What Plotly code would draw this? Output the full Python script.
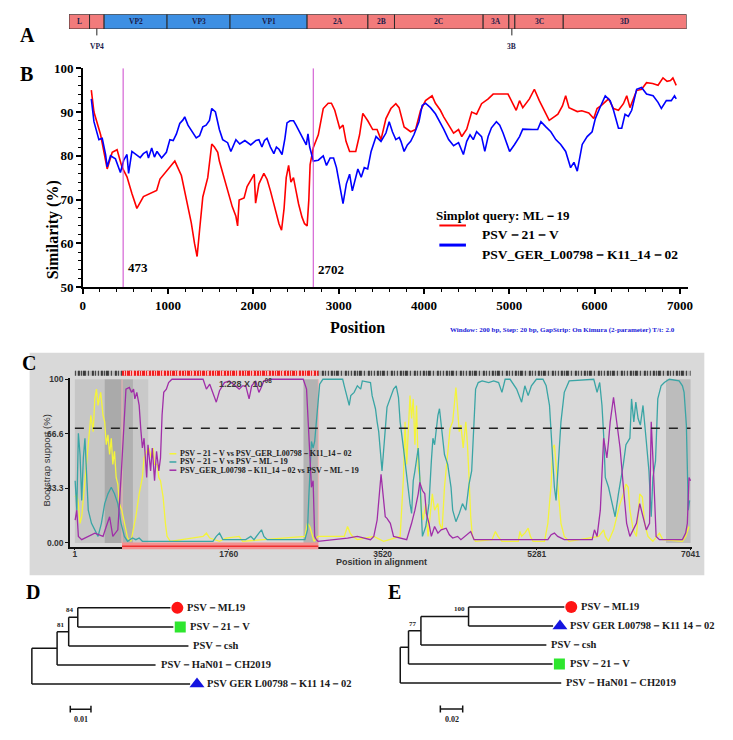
import numpy as np
import plotly.graph_objects as go

# ---------------- data ----------------
# A: genome map
genes = ["L", "VP4", "VP2", "VP3", "VP1", "2A", "2B", "2C", "3A", "3B", "3C", "3D"]
gene_len = [240, 170, 735, 735, 900, 710, 310, 1035, 300, 70, 565, 1440]
capsid = ["VP2", "VP3", "VP1"]
small_genes = ["VP4", "3B"]

# B: simplot (query ML-19)
red_pos = [100, 131, 209, 286, 345, 402, 460, 518, 576, 634, 711, 789, 866, 905, 982, 1079, 1156, 1214, 1272, 1310,
           1340, 1369, 1407, 1465, 1512, 1543, 1582, 1601, 1636, 1694, 1752, 1795, 1815, 1833, 1891, 1926, 1969, 2010, 2026, 2065,
           2123, 2161, 2200, 2258, 2300, 2330, 2360, 2385, 2413, 2440, 2470, 2500, 2530, 2570, 2600, 2630, 2650, 2665, 2703, 2761,
           2819, 2877, 2915, 2954, 3012, 3051, 3086, 3128, 3200, 3245, 3283, 3341, 3399, 3450, 3496, 3554, 3612, 3670, 3708, 3767,
           3844, 3902, 3960, 4018, 4095, 4134, 4192, 4231, 4289, 4347, 4405, 4443, 4501, 4559, 4617, 4675, 4753, 4811, 4985, 5043,
           5081, 5120, 5158, 5236, 5294, 5352, 5410, 5468, 5526, 5570, 5623, 5661, 5700, 5750, 5797, 5850, 5932, 5990, 6029, 6080,
           6164, 6222, 6280, 6338, 6377, 6415, 6493, 6551, 6609, 6680, 6744, 6802, 6850, 6890, 6918, 6957]
red_sim = [95, 90, 84.8, 77, 80.8, 81.4, 77.4, 75.2, 71.4, 68, 70.7, 71.4, 72.1, 74.7, 76.6, 78.8, 75.5, 69.9, 64.7, 60,
           57, 63, 70.6, 75, 82.7, 82, 80.8, 78.8, 76.4, 72, 68.4, 66.2, 64, 69.9, 70.4, 73, 74.5, 75.8, 69.2, 73.6,
           76, 74.6, 72, 67.6, 64.5, 63, 68, 75, 77.8, 74, 75, 72, 69, 66, 64.5, 64, 70, 78, 81.9, 84.8,
           90.8, 92, 92, 90.4, 86.3, 87, 83.3, 81, 81, 84.8, 89.7, 88, 86, 86, 83.7, 88.5, 90.8, 91.9, 91, 86.6,
           85.5, 86, 90.4, 92.6, 93.7, 92, 90.4, 88.9, 87, 85.2, 86, 84.4, 86.1, 90, 89.5, 91.9, 93, 94.1, 94.1, 91.9,
           90.4, 92.6, 91, 93, 95.2, 92.6, 90.4, 88.1, 88.9, 89.5, 91.4, 93.7, 91, 90.6, 90.1, 90.3, 89.8, 88.5, 90.8, 91.5,
           93, 90.8, 90.4, 91.9, 93.7, 91, 94.9, 95.2, 96.7, 96.5, 96.1, 97.8, 97, 97.2, 97.8, 96.1]
blue_pos = [100, 131, 189, 228, 267, 286, 325, 383, 441, 480, 518, 537, 576, 615, 673, 710, 750, 770, 808, 840,
            870, 924, 980, 1021, 1060, 1098, 1137, 1175, 1195, 1233, 1291, 1330, 1369, 1407, 1446, 1485, 1512, 1555, 1601, 1640,
            1698, 1736, 1795, 1840, 1900, 1969, 2030, 2065, 2100, 2130, 2160, 2200, 2240, 2270, 2300, 2336, 2370, 2394, 2430, 2471,
            2500, 2540, 2580, 2620, 2640, 2660, 2703, 2761, 2819, 2857, 2900, 2940, 2974, 3012, 3051, 3090, 3128, 3160, 3195, 3225,
            3264, 3300, 3340, 3380, 3438, 3496, 3554, 3592, 3630, 3670, 3710, 3730, 3767, 3805, 3844, 3882, 3941, 3979, 4018, 4076,
            4134, 4192, 4231, 4289, 4347, 4405, 4462, 4501, 4540, 4578, 4617, 4675, 4713, 4752, 4791, 4849, 4888, 4927, 4965, 5004,
            5062, 5120, 5158, 5216, 5275, 5333, 5371, 5429, 5487, 5545, 5603, 5661, 5719, 5758, 5797, 5855, 5913, 5971, 6009, 6067,
            6125, 6183, 6222, 6280, 6318, 6357, 6396, 6435, 6493, 6551, 6609, 6686, 6744, 6783, 6841, 6899, 6937, 6957]
blue_sim = [93, 87.8, 83.7, 84, 80.3, 77.5, 80, 79.3, 76.2, 79, 80.3, 76, 81, 80.5, 79.6, 80.5, 81, 79.5, 81.8, 79.7,
            81, 79.5, 80.8, 83.7, 83.5, 85, 87.4, 88.2, 88.9, 87, 85.3, 84.1, 84.6, 86.6, 87, 88.1, 90.8, 90, 86, 83.7,
            83, 81, 83.7, 82.7, 83.5, 82.5, 83.5, 83.7, 82, 83.5, 84, 82, 80.5, 82, 81.5, 80.3, 84, 87.5, 88, 88,
            87, 85.5, 84, 82.5, 85, 82, 78.8, 79, 80, 77.8, 79.5, 79.5, 77.3, 73.6, 69.1, 73.6, 75.8, 72, 74.5, 77,
            75.1, 77.3, 77, 81, 84.4, 83.3, 85.2, 87.8, 85.5, 83.7, 84.2, 83.3, 81, 82.5, 83.3, 84.8, 87.8, 91.5, 92, 91,
            89.6, 87.6, 86.1, 83.7, 82.3, 83, 80.3, 83.3, 84.8, 83.7, 85.5, 84.4, 81, 84.4, 86.4, 87.8, 87, 85.2, 83.3, 81,
            82.6, 84.4, 86.1, 86, 86, 86, 87.8, 86.6, 85.5, 83.7, 82.6, 81, 77.3, 78.5, 76.5, 82.6, 84.4, 85.5, 88.5, 91.2,
            93.7, 92.6, 90.4, 86.3, 86.3, 89.5, 89, 90.4, 95.2, 95.6, 94.1, 93.7, 92.2, 90.8, 92.6, 92.6, 93.7, 93]
breaks = [473, 2702]

# C: bootscan
yel_pos = [4, 23, 41, 60, 79, 98, 116, 135, 154, 184, 210, 229, 248, 266, 296, 323, 342, 360, 379, 398,
           417, 435, 454, 473, 492, 510, 537, 567, 604, 642, 660, 698, 736, 773, 792, 822, 848, 874, 897, 912,
           942, 961, 980, 1010, 1036, 1055, 1092, 1467, 1505, 1543, 1655, 1730, 1880, 1918, 2631, 2661, 2687, 2706, 2736, 2781,
           3081, 3119, 3149, 3175, 3231, 3419, 3531, 3720, 3758, 3776, 3795, 3833, 3851, 3870, 3889, 3908, 3927, 3945, 3964, 3983,
           4013, 4039, 4058, 4088, 4114, 4152, 4170, 4200, 4227, 4246, 4264, 4291, 4321, 4339, 4358, 4377, 4396, 4415, 4441, 4471,
           4490, 4508, 4527, 4546, 4583, 4771, 4809, 4839, 4884, 5071, 5090, 5109, 5146, 5184, 5210, 5240, 5371, 5409, 5447, 5465,
           5484, 5503, 5522, 5540, 5559, 5597, 5653, 5991, 6047, 6066, 6103, 6160, 6197, 6235, 6272, 6302, 6328, 6347, 6385, 6422,
           6460, 6490, 6516, 6554, 6610, 6685, 6723, 6948, 6985, 7023]
yel_val = [28, 30, 24, 12, 16, 28, 36, 48, 64, 78, 68, 88, 94, 84, 92, 78, 74, 60, 66, 54,
           64, 48, 56, 40, 36, 24, 20, 12, 3, 1, 6, 16, 30, 40, 52, 56, 58, 52, 58, 48,
           48, 40, 38, 28, 12, 4, 1, 4, 6, 3, 1, 3, 4, 1, 4, 12, 10, 6, 1, 4,
           4, 10, 6, 4, 2, 4, 1, 4, 40, 74, 48, 90, 76, 88, 60, 84, 46, 40, 20, 14,
           24, 4, 16, 30, 20, 24, 12, 8, 34, 44, 54, 70, 74, 84, 95, 82, 68, 72, 58, 74,
           60, 40, 16, 4, 1, 2, 7, 4, 1, 1, 7, 4, 6, 9, 4, 1, 1, 12, 36, 58,
           60, 48, 36, 28, 12, 4, 1, 4, 8, 4, 1, 8, 16, 24, 30, 36, 34, 20, 8, 4,
           30, 28, 12, 4, 1, 6, 2, 1, 4, 10]
teal_pos = [4, 23, 41, 60, 79, 98, 116, 135, 154, 191, 229, 266, 304, 342, 379, 417, 454, 492, 529, 567,
            604, 660, 698, 736, 773, 1580, 1618, 1655, 1693, 1955, 2012, 2049, 2105, 2135, 2162, 2200, 2631, 2661, 2676, 2687,
            2706, 2725, 2743, 2762, 2781, 2800, 2837, 3063, 3081, 3119, 3138, 3156, 3194, 3231, 3269, 3288, 3381, 3400, 3438, 3457,
            3475, 3513, 3570, 3645, 3675, 3701, 3720, 3758, 3795, 3833, 3851, 3870, 3889, 3927, 3945, 3975, 4013, 4050, 4077, 4095,
            4114, 4152, 4170, 4189, 4208, 4227, 4264, 4283, 4302, 4321, 4358, 4396, 4433, 4471, 4508, 4538, 4565, 4583, 4613, 4658,
            4733, 4790, 4846, 4884, 4921, 4977, 5052, 5090, 5109, 5146, 5184, 5221, 5278, 5353, 5390, 5428, 5447, 5465, 5484, 5503,
            5522, 5540, 5559, 5597, 5653, 5934, 5972, 6002, 6028, 6047, 6066, 6103, 6141, 6178, 6216, 6242, 6272, 6302, 6347, 6366,
            6392, 6415, 6441, 6467, 6497, 6535, 6565, 6591, 6610, 6640, 6666, 6704, 6741, 6798, 6910, 6948, 6967, 6993, 7015, 7030]
teal_val = [38, 20, 67, 54, 26, 52, 64, 44, 20, 12, 8, 4, 12, 24, 30, 34, 30, 24, 12, 4,
            1, 3, 2, 3, 1, 1, 4, 6, 2, 2, 4, 2, 6, 8, 4, 2, 2, 8, 28, 42,
            62, 58, 62, 74, 88, 97, 100, 100, 96, 88, 84, 90, 92, 96, 94, 99, 98, 90, 82, 74,
            68, 44, 83, 94, 96, 89, 74, 58, 40, 24, 18, 38, 44, 58, 40, 4, 10, 24, 50, 64,
            60, 78, 82, 72, 66, 54, 48, 40, 34, 20, 13, 18, 24, 20, 36, 44, 74, 94, 98, 99,
            98, 99, 98, 92, 100, 100, 94, 88, 86, 96, 90, 96, 100, 100, 96, 84, 64, 48, 34, 26,
            44, 54, 74, 92, 99, 100, 92, 98, 84, 66, 40, 34, 24, 16, 30, 38, 48, 60, 64, 88,
            74, 86, 76, 72, 84, 62, 44, 16, 40, 50, 88, 96, 98, 100, 99, 96, 92, 72, 20, 26]
pur_pos = [4, 23, 41, 79, 229, 323, 360, 398, 435, 492, 529, 567, 585, 623, 649, 672, 687, 709, 736, 754,
           773, 792, 822, 837, 867, 886, 912, 935, 961, 980, 998, 1017, 1047, 1073, 1111, 1467, 1505, 1543, 1580, 1618,
           1655, 1711, 1768, 1880, 1918, 1955, 1993, 2023, 2068, 2105, 2124, 2162, 2256, 2612, 2650, 2668, 2687, 2706, 2725, 2743,
           2762, 2781, 3119, 3231, 3381, 3419, 3457, 3487, 3502, 3524, 3550, 3570, 3608, 3645, 3795, 3851, 3889, 3927, 3945, 3975,
           4002, 4020, 4050, 4077, 4114, 4152, 4189, 4246, 4283, 4321, 4377, 4415, 4527, 4565, 5409, 5447, 5484, 5522, 5597, 5916,
           5942, 5972, 6009, 6047, 6084, 6103, 6122, 6160, 6197, 6235, 6273, 6310, 6347, 6385, 6422, 6460, 6497, 6535, 6572, 6591,
           6617, 6647, 6685, 6948, 6985, 7004, 7023, 7041]
pur_val = [14, 20, 4, 2, 6, 4, 10, 16, 4, 8, 40, 74, 94, 95, 92, 94, 88, 92, 84, 70,
           58, 64, 40, 60, 44, 58, 38, 56, 44, 52, 78, 92, 94, 98, 100, 100, 94, 97, 92, 86,
           93, 98, 99, 94, 96, 96, 88, 96, 99, 92, 94, 99, 100, 100, 94, 74, 54, 34, 38, 4,
           2, 1, 3, 4, 2, 4, 14, 34, 42, 30, 16, 15, 12, 4, 2, 12, 20, 30, 37, 32,
           30, 18, 12, 4, 10, 6, 8, 9, 5, 3, 4, 2, 7, 2, 2, 5, 6, 4, 2, 2,
           8, 4, 20, 64, 52, 62, 74, 89, 72, 58, 34, 12, 4, 8, 12, 24, 16, 8, 12, 74,
           44, 4, 2, 2, 6, 12, 40, 38]
shade_start = [1, 340, 540, 665, 2615, 6760]
shade_end = [340, 540, 665, 840, 2785, 7041]
shade_tone = ["#c6c6c6", "#aaaaaa", "#b0b0b0", "#c9c9c9", "#b3b3b3", "#bcbcbc"]
recomb_region = [540, 2785]
c_ticks = [1, 1760, 3520, 5281, 7041]
c_yticks = [0, 33.3, 66.6, 100]
c_yticklabels = ["0.00", "33.3", "66.6", "100"]
cutoff = 70
pairs = ["PSV－21－V vs PSV_GER_L00798－K11_14－02",
         "PSV－21－V vs PSV－ML－19",
         "PSV_GER_L00798－K11_14－02 vs PSV－ML－19"]

# D / E: trees (node, parent, branch length)
d_nodes = ["root", "n1", "GER", "HaN01", "n2", "csh", "n3", "ML19", "21V"]
d_parent = [None, "root", "root", "n1", "n1", "n2", "n2", "n3", "n3"]
d_len = [0, 0.0122, 0.0765, 0.0476, 0.0056, 0.0579, 0.0044, 0.0448, 0.0462]
d_leaves = ["ML19", "21V", "csh", "HaN01", "GER"]
d_support = {"n3": 84, "n2": 81}
e_nodes = ["root", "n1", "HaN01", "21V", "n2", "csh", "n3", "ML19", "GER"]
e_parent = [None, "root", "root", "n1", "n1", "n2", "n2", "n3", "n3"]
e_len = [0, 0.0074, 0.144, 0.1288, 0.0111, 0.1122, 0.0426, 0.0857, 0.0756]
e_leaves = ["ML19", "GER", "csh", "21V", "HaN01"]
e_support = {"n3": 100, "n2": 77}
leaf_names = {"ML19": "PSV－ML19", "21V": "PSV－21－V", "csh": "PSV－csh",
              "HaN01": "PSV－HaN01－CH2019", "GER": "PSV GER L00798－K11 14－02"}
leaf_marks = {"ML19": ("circle", "#ff1414", 12), "21V": ("square", "#2ee62e", 11),
              "GER": ("triangle-up", "#1414e0", 13)}

# ---------------- helpers ----------------
W, H = 733, 740
SERIF = "Liberation Serif, Times New Roman, serif"
SANS = "Liberation Sans, Arial, sans-serif"


def px(x):
    return x / W


def py(y):
    return 1 - y / H


def bf(size, color="#000", fam=SERIF):
    return dict(family=fam, size=size, color=color, weight="bold")


fig = go.Figure()
shapes, ann = [], []

# ---------------- A ----------------
starts = np.concatenate([[0], np.cumsum(gene_len)[:-1]])
centers = starts + np.array(gene_len) / 2
fig.add_trace(go.Bar(x=gene_len, y=[0] * len(genes), base=starts, orientation="h", width=1,
                     marker=dict(color=["#3d8fe3" if g in capsid else "#f27b7b" for g in genes],
                                 line=dict(color="#2b2b2b", width=1)),
                     xaxis="x", yaxis="y", hoverinfo="skip", showlegend=False))
for g, c in zip(genes, centers):
    if g in small_genes:
        shapes.append(dict(type="line", xref="x", yref="paper", x0=c, x1=c, y0=py(22), y1=py(29),
                           line=dict(color="#222", width=1)))
        ann.append(dict(x=c, y=py(34), xref="x", yref="paper", text=g, showarrow=False,
                        font=bf(7.5, "#1b1b4b")))
    else:
        ann.append(dict(x=c, y=0, xref="x", yref="y", text=g, showarrow=False, font=bf(7.5, "#1b1b4b")))

# ---------------- B ----------------
fig.add_trace(go.Scatter(x=red_pos, y=red_sim, mode="lines", line=dict(color="#ff0000", width=1.6),
                         xaxis="x2", yaxis="y2", showlegend=False))
fig.add_trace(go.Scatter(x=blue_pos, y=blue_sim, mode="lines", line=dict(color="#0000ff", width=1.6),
                         xaxis="x2", yaxis="y2", showlegend=False))
for b, yy in zip(breaks, [54.5, 54]):
    shapes.append(dict(type="line", xref="x2", yref="y2", x0=b, x1=b, y0=50, y1=100,
                       line=dict(color="#cc44cc", width=1)))
    ann.append(dict(x=b, y=yy, xref="x2", yref="y2", text=str(b), xanchor="left", xshift=3,
                    showarrow=False, font=bf(13)))
ann.append(dict(x=px(438), y=py(203), xref="paper", yref="paper", text="Simplot query: ML－19",
                xanchor="left", showarrow=False, font=bf(13)))
for yy, col, name, lw in [(223, "#ff0000", "PSV－21－V", 2), (243, "#0000ff", "PSV_GER_L00798－K11_14－02", 3)]:
    shapes.append(dict(type="line", xref="paper", yref="paper", x0=px(443), x1=px(470), y0=py(yy), y1=py(yy),
                       line=dict(color=col, width=lw)))
    ann.append(dict(x=px(484), y=py(yy), xref="paper", yref="paper", text=name, xanchor="left",
                    showarrow=False, font=bf(13.5)))
ann.append(dict(x=px(40), y=py(175), xref="paper", yref="paper", text="Similarity (%)", textangle=-90,
                showarrow=False, font=bf(16)))
ann.append(dict(x=px(360), y=py(327), xref="paper", yref="paper", text="Position",
                showarrow=False, font=bf(16)))
ann.append(dict(x=px(452), y=py(330), xref="paper", yref="paper", xanchor="left",
                text="Window: 200 bp, Step: 20 bp, GapStrip: On Kimura (2-parameter) T/t: 2.0",
                showarrow=False, font=bf(7, "#2020d8")))

# ---------------- C ----------------
shapes.append(dict(type="rect", xref="paper", yref="paper", x0=px(27), x1=px(712), y0=py(580), y1=py(353),
                   fillcolor="#d9d9d9", line=dict(width=0), layer="below"))
for s0, s1, tone in zip(shade_start, shade_end, shade_tone):
    shapes.append(dict(type="rect", xref="x3", yref="y3", x0=s0, x1=s1, y0=0, y1=100,
                       fillcolor=tone, line=dict(width=0), layer="below"))
for e in recomb_region:
    shapes.append(dict(type="line", xref="x3", yref="y3", x0=e, x1=e, y0=0, y1=100,
                       line=dict(color="#f2b4b4", width=1), layer="below"))
shapes.append(dict(type="line", xref="x3", yref="y3", x0=c_ticks[0], x1=c_ticks[-1], y0=cutoff, y1=cutoff,
                   line=dict(color="#222", width=1.5, dash="dash")))
shapes.append(dict(type="rect", xref="x3", yref="paper", x0=recomb_region[0], x1=recomb_region[1],
                   y0=py(553.5), y1=py(546.5), fillcolor="#f59090", line=dict(width=0)))
shapes.append(dict(type="line", xref="x3", yref="paper", x0=recomb_region[0], x1=recomb_region[1],
                   y0=py(550.5), y1=py(550.5), line=dict(color="#ee3030", width=1.5)))

for xs, ys, col in [(yel_pos, yel_val, "#f4f43a"), (teal_pos, teal_val, "#3aa5a5"), (pur_pos, pur_val, "#a02ea8")]:
    fig.add_trace(go.Scatter(x=xs, y=ys, mode="lines", line=dict(color=col, width=1.3),
                             xaxis="x3", yaxis="y3", showlegend=False))

# site strip along the top
fig.add_trace(go.Scatter(x=[c_ticks[0], c_ticks[-1]], y=[0.5, 0.5], mode="lines",
                         line=dict(color="#bdbdbd", width=5), xaxis="x4", yaxis="y4", showlegend=False))
fig.add_trace(go.Scatter(x=[c_ticks[0], c_ticks[-1]], y=[0.5, 0.5], mode="lines",
                         line=dict(color="#3a3a3a", width=5,
                                   dash="1px,2px,2px,1px,1px,1px,3px,2px,1px,3px,2px,1px,1px,2px"),
                         xaxis="x4", yaxis="y4", showlegend=False))
fig.add_trace(go.Scatter(x=recomb_region, y=[0.5, 0.5], mode="lines",
                         line=dict(color="#ffb8b8", width=5), xaxis="x4", yaxis="y4", showlegend=False))
fig.add_trace(go.Scatter(x=recomb_region, y=[0.5, 0.5], mode="lines",
                         line=dict(color="#f01e1e", width=5, dash="2px,1px,1px,1px,3px,1px,1px,2px,2px,1px"),
                         xaxis="x4", yaxis="y4", showlegend=False))

ann.append(dict(x=px(217), y=py(384), xref="paper", yref="paper", text="1.228 X 10<sup>-08</sup>",
                showarrow=False, font=bf(9, "#3a3a3a", SANS)))
for i, (name, col) in enumerate(zip(pairs, ["#f4f43a", "#3aa5a5", "#a02ea8"])):
    yy = 456 + 8.4 * i
    shapes.append(dict(type="line", xref="paper", yref="paper", x0=px(169), x1=px(176), y0=py(yy), y1=py(yy),
                       line=dict(color=col, width=1.5)))
    ann.append(dict(x=px(178), y=py(yy), xref="paper", yref="paper", text=name, xanchor="left",
                    showarrow=False, font=bf(8, "#222")))
ann.append(dict(x=px(37), y=py(463), xref="paper", yref="paper", text="Bootstrap support (%)", textangle=-90,
                showarrow=False, font=dict(family=SANS, size=9.5, color="#333")))
ann.append(dict(x=px(384), y=py(574), xref="paper", yref="paper", text="Position in alignment",
                showarrow=False, font=bf(9, "#333", SANS)))


# ---------------- D / E ----------------
def draw_tree(nodes, parents, lengths, leaves, support, xa, ya, scale):
    xpos = {}
    for n, p, l in zip(nodes, parents, lengths):
        xpos[n] = (xpos[p] if p else 0.0) + l
    kids = {n: [c for c, p in zip(nodes, parents) if p == n] for n in nodes}
    ypos = {}

    def place(n):
        ypos[n] = leaves.index(n) if not kids[n] else float(np.mean([place(k) for k in kids[n]]))
        return ypos[n]

    place(nodes[0])
    xs, ys = [], []
    for n, p in zip(nodes, parents):
        if p:
            xs += [xpos[p], xpos[n], None]
            ys += [ypos[n], ypos[n], None]
        if kids[n]:
            yy = [ypos[k] for k in kids[n]]
            xs += [xpos[n], xpos[n], None]
            ys += [min(yy), max(yy), None]
    fig.add_trace(go.Scatter(x=xs, y=ys, mode="lines", line=dict(color="#151515", width=1.5),
                             xaxis=xa, yaxis=ya, hoverinfo="skip", showlegend=False))
    for leaf in leaves:
        marked = leaf in leaf_marks
        if marked:
            sym, col, sz = leaf_marks[leaf]
            fig.add_trace(go.Scatter(x=[xpos[leaf] + 7 / scale], y=[ypos[leaf]], mode="markers",
                                     marker=dict(symbol=sym, color=col, size=sz, line=dict(width=0)),
                                     xaxis=xa, yaxis=ya, showlegend=False))
        ann.append(dict(x=xpos[leaf], y=ypos[leaf], xref=xa, yref=ya, text=leaf_names[leaf],
                        xanchor="left", xshift=15 if marked else 3, showarrow=False, font=bf(10.5, "#1a1a1a")))
    for n, v in support.items():
        ann.append(dict(x=xpos[n], y=ypos[n], xref=xa, yref=ya, text=str(v), xanchor="right", yanchor="bottom",
                        xshift=-2, yshift=1, showarrow=False, font=bf(7, "#222")))


D_SCALE, E_SCALE = 2100.0, 1135.0
draw_tree(d_nodes, d_parent, d_len, d_leaves, d_support, "x5", "y5", D_SCALE)
draw_tree(e_nodes, e_parent, e_len, e_leaves, e_support, "x6", "y6", E_SCALE)
for xa, ya, x0, bar, lab, yb in [("x5", "y5", 39 / D_SCALE, 0.01, "0.01", 5.33),
                                  ("x6", "y6", 40.7 / E_SCALE, 0.02, "0.02", 5.37)]:
    shapes.append(dict(type="line", xref=xa, yref=ya, x0=x0, x1=x0 + bar, y0=yb, y1=yb,
                       line=dict(color="#151515", width=1.5)))
    for xe in (x0, x0 + bar):
        shapes.append(dict(type="line", xref=xa, yref=ya, x0=xe, x1=xe, y0=yb - 0.18, y1=yb + 0.18,
                           line=dict(color="#151515", width=1.5)))
    ann.append(dict(x=x0 + bar / 2, y=yb + 0.55, xref=xa, yref=ya, text=lab, showarrow=False,
                    font=bf(8, "#222")))

# panel letters
for letter, lx, ly in [("A", 15, 15), ("B", 15, 55), ("C", 17, 363), ("D", 21, 610), ("E", 397, 610)]:
    ann.append(dict(x=px(lx), y=py(ly), xref="paper", yref="paper", text=letter, showarrow=False,
                    font=bf(20)))

# ---------------- layout ----------------
hidden = dict(visible=False, showgrid=False, zeroline=False, fixedrange=True)
b_xr = [0, 7100]
c_xr = [-55, 7063]
fig.update_layout(
    width=W, height=H, margin=dict(l=0, r=0, t=0, b=0),
    paper_bgcolor="white", plot_bgcolor="rgba(0,0,0,0)", showlegend=False,
    barmode="overlay",
    xaxis=dict(domain=[px(67), px(694)], range=[0, sum(gene_len)], anchor="y", **hidden),
    yaxis=dict(domain=[py(22.5), py(7.5)], range=[-0.5, 0.5], anchor="x", **hidden),
    xaxis2=dict(domain=[px(81), px(81 + 7100 * 0.0866)], range=b_xr, anchor="y2",
                showline=True, linecolor="#000", linewidth=1.5, ticks="outside", ticklen=5, tickwidth=1.5,
                tickcolor="#000", tick0=0, dtick=1000, showgrid=False, zeroline=False,
                minor=dict(dtick=200, ticks="outside", ticklen=3, tickwidth=1, tickcolor="#000"),
                tickfont=bf(13)),
    yaxis2=dict(domain=[py(286), py(62.5)], range=[50, 100], anchor="x2",
                showline=True, linecolor="#000", linewidth=1.5, ticks="outside", ticklen=5, tickwidth=1.5,
                tickcolor="#000", tick0=50, dtick=10, showgrid=False, zeroline=False,
                minor=dict(dtick=2, ticks="outside", ticklen=3, tickwidth=1, tickcolor="#000"),
                tickfont=bf(13)),
    xaxis3=dict(domain=[px(68), px(700)], range=c_xr, anchor="y3", tickmode="array", tickvals=c_ticks,
                showline=True, linecolor="#111", linewidth=1.5, ticks="outside", ticklen=2, tickcolor="#111",
                ticklabelstandoff=-3,
                showgrid=False, zeroline=False, tickfont=bf(8.5, "#333", SANS)),
    yaxis3=dict(domain=[py(550.7), py(378.3)], range=[-2.2, 101], anchor="x3", tickmode="array",
                tickvals=c_yticks, ticktext=c_yticklabels,
                showline=True, linecolor="#111", linewidth=1.5, ticks="outside", ticklen=3, tickcolor="#111",
                showgrid=False, zeroline=False, tickfont=bf(8.5, "#333", SANS)),
    xaxis4=dict(domain=[px(68), px(700)], range=c_xr, anchor="y4", **hidden),
    yaxis4=dict(domain=[py(377), py(370.5)], range=[0, 1], anchor="x4", **hidden),
    xaxis5=dict(domain=[px(20), px(360)], range=[(20 - 29.3) / D_SCALE, (360 - 29.3) / D_SCALE],
                anchor="y5", **hidden),
    yaxis5=dict(domain=[py(735), py(595)], range=[(735 - 613.3) / 19.4, (595 - 613.3) / 19.4],
                anchor="x5", **hidden),
    xaxis6=dict(domain=[px(380), px(733)], range=[(380 - 403.3) / E_SCALE, (733 - 403.3) / E_SCALE],
                anchor="y6", **hidden),
    yaxis6=dict(domain=[py(735), py(595)], range=[(735 - 612.3) / 19.4, (595 - 612.3) / 19.4],
                anchor="x6", **hidden),
    shapes=shapes, annotations=ann,
)

# drop the default page margin so the 733x740 figure fills the window exactly
fig.write_html("out.html", config={"displayModeBar": False},
               post_script="document.body.style.margin='0';document.body.style.overflow='hidden';")
